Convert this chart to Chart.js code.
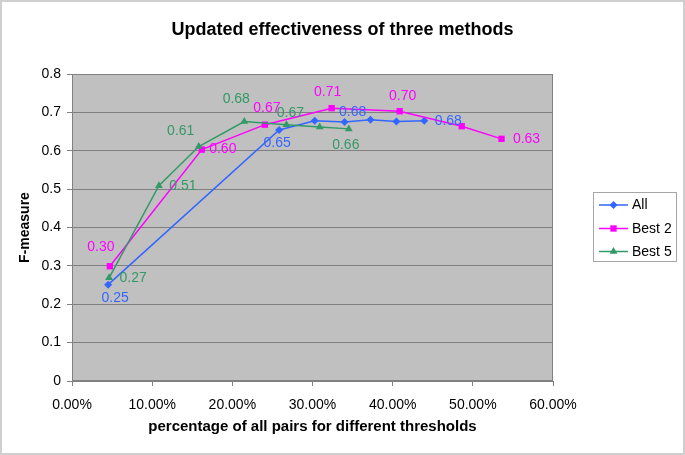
<!DOCTYPE html>
<html>
<head>
<meta charset="utf-8">
<script src="https://cdn.jsdelivr.net/npm/chart.js@4/dist/chart.umd.min.js"></script>
<style>
  html, body { margin: 0; padding: 0; background: #ffffff; }
  canvas { display: block; }
</style>
</head>
<body>
<canvas id="c" width="685" height="455"></canvas>
<script>
// ---- Data ----
const chartTitle = 'Updated effectiveness of three methods';
const xAxisTitle = 'percentage of all pairs for different thresholds';
const yAxisTitle = 'F-measure';
const seriesNames = ['All', 'Best 2', 'Best 5'];

// x values are percentages of all pairs
const allX   = [4.51, 25.84, 30.27, 34.00, 37.23, 40.46, 43.94];
const allY   = [0.251, 0.654, 0.678, 0.675, 0.681, 0.676, 0.678];
const best2X = [4.72, 16.19, 24.06, 32.39, 40.87, 48.61, 53.58];
const best2Y = [0.299, 0.603, 0.668, 0.711, 0.703, 0.664, 0.631];
const best5X = [4.63, 10.84, 15.81, 21.49, 26.75, 30.90, 34.53];
const best5Y = [0.269, 0.509, 0.611, 0.676, 0.668, 0.662, 0.657];

const xTickLabels = ['0.00%', '10.00%', '20.00%', '30.00%', '40.00%', '50.00%', '60.00%'];
const yTickLabels = ['0', '0.1', '0.2', '0.3', '0.4', '0.5', '0.6', '0.7', '0.8'];

// ---- Styles ----
const colors = ['#3366FF', '#FF00FF', '#339966'];
const markers = ['rectRot', 'rect', 'triangle'];
const markerRadius = [4, 4.5, 4.5];
// data label placement (pixel offsets of the label centre from its point), null = no label
const labelOffsets = [
  [[7, 13], [-2, 13], [38, -9], null, null, null, [24, 0]],
  [[-9, -19], [21, 0], [2, -17], [-4, -16], [3, -15], null, [25, 0]],
  [[24, 0], [24, 0], [-18, -15], [-8, -22], [4, -12], null, [-3, 16]]
];
const FONT = "'Liberation Sans', Arial, sans-serif";

function pts(xs, ys) { return xs.map((x, i) => ({ x: x, y: ys[i] })); }
const seriesData = [pts(allX, allY), pts(best2X, best2Y), pts(best5X, best5Y)];

function drawMarker(ctx, style, x, y, r, color) {
  ctx.save();
  ctx.fillStyle = color;
  ctx.beginPath();
  if (style === 'rectRot') {
    ctx.moveTo(x, y - r); ctx.lineTo(x + r, y); ctx.lineTo(x, y + r); ctx.lineTo(x - r, y);
  } else if (style === 'rect') {
    const s = r * Math.SQRT1_2;
    ctx.rect(x - s, y - s, 2 * s, 2 * s);
  } else {
    const w = r * Math.sqrt(3) / 2;
    ctx.moveTo(x, y - r); ctx.lineTo(x + w, y + r / 2); ctx.lineTo(x - w, y + r / 2);
  }
  ctx.closePath();
  ctx.fill();
  ctx.restore();
}

const decorPlugin = {
  id: 'decor',
  beforeDraw(chart) {
    const { ctx, chartArea: a, width, height } = chart;
    ctx.save();
    ctx.fillStyle = '#ffffff';
    ctx.fillRect(0, 0, width, height);
    ctx.strokeStyle = '#cfcfcf';
    ctx.lineWidth = 2;
    ctx.strokeRect(1, 1, width - 2, height - 2);
    ctx.fillStyle = '#C0C0C0';
    ctx.fillRect(a.left, a.top, a.right - a.left, a.bottom - a.top);
    ctx.restore();
  },
  beforeDatasetsDraw(chart) {
    const { ctx, chartArea: a } = chart;
    ctx.save();
    ctx.strokeStyle = '#808080';
    ctx.lineWidth = 1;
    ctx.strokeRect(a.left + 0.5, a.top + 0.5, a.right - a.left - 1, a.bottom - a.top - 1);
    ctx.restore();
  },
  afterDatasetsDraw(chart) {
    const { ctx } = chart;
    ctx.save();
    ctx.font = '14px ' + FONT;
    ctx.textAlign = 'center';
    ctx.textBaseline = 'middle';
    chart.data.datasets.forEach((ds, i) => {
      const meta = chart.getDatasetMeta(i);
      ctx.fillStyle = colors[i];
      meta.data.forEach((el, j) => {
        const off = labelOffsets[i][j];
        if (!off) return;
        ctx.fillText(ds.data[j].y.toFixed(2), el.x + off[0], el.y + off[1]);
      });
    });
    ctx.restore();
  },
  afterDraw(chart) {
    const { ctx } = chart;
    const box = { left: 593, top: 192, right: 677, bottom: 262 };
    ctx.save();
    ctx.fillStyle = '#ffffff';
    ctx.fillRect(box.left, box.top, box.right - box.left, box.bottom - box.top);
    ctx.strokeStyle = '#a6a6a6';
    ctx.lineWidth = 1;
    ctx.strokeRect(box.left + 0.5, box.top + 0.5, box.right - box.left - 1, box.bottom - box.top - 1);
    ctx.font = '14px ' + FONT;
    ctx.textAlign = 'left';
    ctx.textBaseline = 'middle';
    const rowY = [205, 228.5, 251.5];
    chart.data.datasets.forEach((ds, i) => {
      const y = rowY[i];
      ctx.strokeStyle = colors[i];
      ctx.lineWidth = 1.5;
      ctx.beginPath();
      ctx.moveTo(599, y); ctx.lineTo(628, y);
      ctx.stroke();
      drawMarker(ctx, markers[i], 613.5, y, markerRadius[i], colors[i]);
      ctx.fillStyle = '#000000';
      ctx.fillText(ds.label, 632, y + 0.5);
    });
    ctx.restore();
  }
};

const datasets = seriesNames.map((name, i) => ({
  label: name,
  data: seriesData[i],
  showLine: true,
  borderColor: colors[i],
  backgroundColor: colors[i],
  borderWidth: 1.5,
  pointStyle: markers[i],
  pointRadius: markerRadius[i],
  pointBorderWidth: 0,
  pointBackgroundColor: colors[i],
  tension: 0,
  order: 2 - i
}));

Chart.defaults.font.family = FONT;
Chart.defaults.color = '#000000';

new Chart(document.getElementById('c'), {
  type: 'scatter',
  data: { datasets: datasets },
  options: {
    responsive: false,
    animation: false,
    devicePixelRatio: 1,
    layout: { padding: 0 },
    plugins: {
      legend: { display: false },
      tooltip: { enabled: false },
      title: {
        display: true,
        text: chartTitle,
        color: '#000000',
        font: { size: 18, weight: 'bold', family: FONT },
        padding: { top: 19, bottom: 33.4 }
      }
    },
    scales: {
      x: {
        type: 'linear',
        min: 0, max: 60,
        ticks: {
          stepSize: 10,
          color: '#000000',
          font: { size: 14, family: FONT },
          padding: 11,
          maxRotation: 0,
          callback: (v, i) => xTickLabels[i]
        },
        grid: { drawOnChartArea: false, drawTicks: true, tickLength: 5, color: '#808080' },
        border: { display: true, color: '#808080' },
        title: {
          display: true,
          text: xAxisTitle,
          color: '#000000',
          font: { size: 15, weight: 'bold', family: FONT },
          padding: { top: 0, bottom: 19 }
        },
        afterFit: s => { s.height = 74; }
      },
      y: {
        type: 'linear',
        min: 0, max: 0.8,
        ticks: {
          stepSize: 0.1,
          color: '#000000',
          font: { size: 14, family: FONT },
          padding: 6,
          callback: (v, i) => yTickLabels[i]
        },
        grid: { drawOnChartArea: true, drawTicks: true, tickLength: 5, color: '#808080', lineWidth: 1 },
        border: { display: true, color: '#808080' },
        title: {
          display: true,
          text: yAxisTitle,
          color: '#000000',
          font: { size: 14, weight: 'bold', family: FONT },
          padding: { top: 17, bottom: 0 }
        },
        afterFit: s => { s.width = 72; }
      },
      legendSpace: {
        type: 'linear',
        position: 'right',
        display: true,
        min: 0, max: 1,
        ticks: { display: false },
        grid: { display: false, drawTicks: false },
        border: { display: false },
        afterFit: s => { s.width = 132; }
      }
    }
  },
  plugins: [decorPlugin]
});
</script>
</body>
</html>
